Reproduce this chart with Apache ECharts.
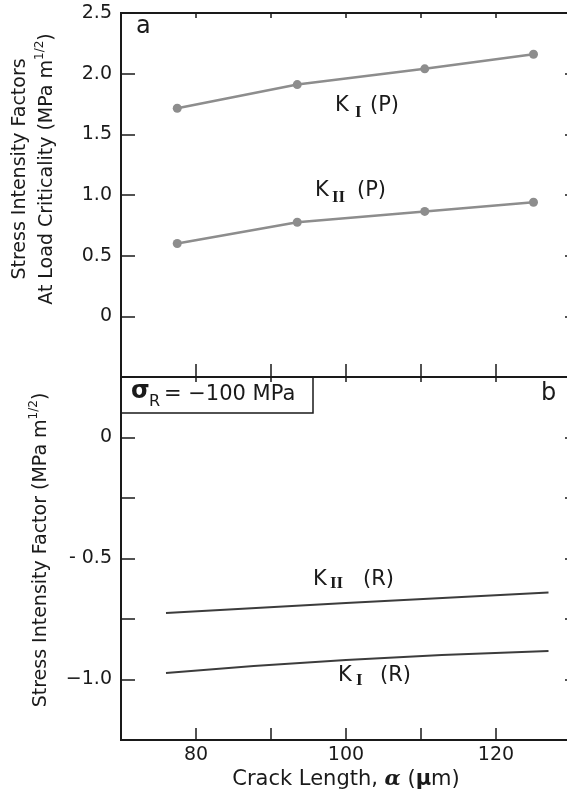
<!DOCTYPE html>
<html>
<head>
<meta charset="UTF-8">
<title>Stress intensity factors vs crack length</title>
<script src="https://cdn.jsdelivr.net/npm/echarts@6/dist/echarts.min.js"></script>
<style>
    html, body { margin: 0; padding: 0; background: #fff; }
    #chart { width: 567px; height: 792px; }
</style>
</head>
<body>
<div id="chart"></div>
<script>
    // crack length (um) of the computed points, panel a
    const crackLenP = [77.5, 93.5, 110.5, 125];
    const kIP = [1.715, 1.91, 2.04, 2.16];
    const kIIP = [0.60, 0.775, 0.865, 0.94];

    // residual stress curves, panel b
    const crackLenR = [76, 100, 127];
    const kIIR = [-0.725, -0.684, -0.641];
    const kIR = [-0.973, -0.919, -0.882];

    // tick labels that are printed
    const yTopTicks = [0, 0.5, 1, 1.5, 2, 2.5];
    const yTopLabels = ['0', '0.5', '1.0', '1.5', '2.0', '2.5'];
    const yBotTicks = [0, -0.5, -1];
    const yBotLabels = ['0', '- 0.5', '\u22121.0'];
    const xTicks = [80, 100, 120];
    const xLabels = ['80', '100', '120'];

    const ink = '#1a1a1a';
    const font = 'DejaVu Sans, sans-serif';

    function pick(ticks, labels) {
        return function (v) {
            for (let i = 0; i < ticks.length; i++) {
                if (Math.abs(ticks[i] - v) < 1e-6) return labels[i];
            }
            return '';
        };
    }

    function pairs(xs, ys) {
        return xs.map(function (x, i) { return [x, ys[i]]; });
    }

    // K label: "K" + bold roman subscript + tail
    function kLabel(x, y, sub, subDx, subDy, tail, tailDx) {
        return {
            type: 'group', x: x, y: y,
            children: [
                {type: 'text', style: {text: 'K', x: 0, y: 0, fill: ink, font: '21px ' + font, verticalAlign: 'top'}},
                {type: 'text', style: {text: sub, x: subDx, y: subDy, fill: ink, font: 'bold 17px Liberation Serif, serif', verticalAlign: 'top'}},
                {type: 'text', style: {text: tail, x: tailDx, y: 0, fill: ink, font: '21px ' + font, verticalAlign: 'top'}}
            ]
        };
    }

    let myChart = echarts.init(document.getElementById('chart'));

    let sideX = function (grid, pos, tickLen) {
        return {
            type: 'value', gridIndex: grid, position: pos,
            min: 70, max: 130, interval: 10,
            axisLine: {show: true, onZero: false, lineStyle: {color: ink, width: 2}},
            axisTick: {show: true, inside: true, length: tickLen, lineStyle: {color: ink, width: 1.5}},
            axisLabel: {show: false},
            splitLine: {show: false}
        };
    };
    let sideY = function (grid, pos, min, max, step, tickLen) {
        return {
            type: 'value', gridIndex: grid, position: pos,
            min: min, max: max, interval: step,
            axisLine: {show: true, onZero: false, lineStyle: {color: ink, width: 2}},
            axisTick: {show: true, inside: true, length: tickLen, lineStyle: {color: ink, width: 1.5}},
            axisLabel: {show: false},
            splitLine: {show: false}
        };
    };

    let xBottom = sideX(1, 'bottom', 12);
    xBottom.axisLabel = {
        show: true, color: ink, fontSize: 19, fontFamily: font, margin: 6,
        formatter: pick(xTicks, xLabels)
    };
    xBottom.name = 'Crack Length, {a|\u03b1} ({m|\u00b5}m)';
    xBottom.nameLocation = 'middle';
    xBottom.nameGap = 29;
    xBottom.nameTextStyle = {
        color: ink, fontSize: 21, fontFamily: font,
        rich: {
            a: {fontSize: 21, fontWeight: 'bold', fontStyle: 'italic', fontFamily: 'DejaVu Serif, serif', color: ink},
            m: {fontSize: 21, fontWeight: 'bold', fontFamily: font, color: ink}
        }
    };

    let yTop = sideY(0, 'left', -0.5, 2.5, 0.5, 14);
    yTop.axisLabel = {
        show: true, color: ink, fontSize: 19, fontFamily: font, margin: 9,
        formatter: pick(yTopTicks, yTopLabels)
    };
    yTop.name = 'Stress Intensity Factors\nAt Load Criticality (MPa m{sup|1/2})';
    yTop.nameLocation = 'middle';
    yTop.nameRotate = 90;
    yTop.nameGap = 60;
    yTop.nameTextStyle = {
        color: ink, fontSize: 19, fontFamily: font, lineHeight: 27,
        padding: [0, 0, 0, 52],
        rich: {sup: {fontSize: 12, fontFamily: font, color: ink, verticalAlign: 'top', lineHeight: 27}}
    };

    let yBot = sideY(1, 'left', -1.25, 0.25, 0.25, 14);
    yBot.axisLabel = {
        show: true, color: ink, fontSize: 19, fontFamily: font, margin: 9,
        formatter: pick(yBotTicks, yBotLabels)
    };
    yBot.name = 'Stress Intensity Factor (MPa m{sup|1/2})';
    yBot.nameLocation = 'middle';
    yBot.nameRotate = 90;
    yBot.nameGap = 63;
    yBot.nameTextStyle = {
        color: ink, fontSize: 19, fontFamily: font, lineHeight: 27,
        padding: [0, 0, 0, 17],
        rich: {sup: {fontSize: 12, fontFamily: font, color: ink, verticalAlign: 'top', lineHeight: 27}}
    };

    let option = {
        animation: false,
        backgroundColor: '#fff',
        grid: [
            {left: 121, width: 450, top: 13, height: 364, outerBoundsMode: 'none',
                show: true, borderColor: ink, borderWidth: 2},
            {left: 121, width: 450, top: 377, height: 363, outerBoundsMode: 'none',
                show: true, borderColor: ink, borderWidth: 2}
        ],
        xAxis: [sideX(0, 'bottom', 13), sideX(0, 'top', 5), xBottom, sideX(1, 'top', 5)],
        yAxis: [yTop, sideY(0, 'right', -0.5, 2.5, 0.5, 6), yBot, sideY(1, 'right', -1.25, 0.25, 0.25, 6)],
        series: [
            {
                name: 'KI(P)', type: 'line', xAxisIndex: 0, yAxisIndex: 0,
                data: pairs(crackLenP, kIP),
                symbol: 'circle', symbolSize: 9,
                lineStyle: {color: '#8d8d8d', width: 2.5},
                itemStyle: {color: '#8d8d8d'}
            },
            {
                name: 'KII(P)', type: 'line', xAxisIndex: 0, yAxisIndex: 0,
                data: pairs(crackLenP, kIIP),
                symbol: 'circle', symbolSize: 9,
                lineStyle: {color: '#8d8d8d', width: 2.5},
                itemStyle: {color: '#8d8d8d'}
            },
            {
                name: 'KII(R)', type: 'line', xAxisIndex: 2, yAxisIndex: 2,
                data: pairs(crackLenR, kIIR), smooth: true,
                showSymbol: false,
                lineStyle: {color: '#3c3c3c', width: 2}
            },
            {
                name: 'KI(R)', type: 'line', xAxisIndex: 2, yAxisIndex: 2,
                data: pairs(crackLenR, kIR), smooth: true,
                showSymbol: false,
                lineStyle: {color: '#3c3c3c', width: 2}
            }
        ],
        graphic: [
            {type: 'text', style: {text: 'a', x: 136, y: 15, fill: ink, font: '24px ' + font, verticalAlign: 'top'}},
            {type: 'text', style: {text: 'b', x: 541, y: 382, fill: ink, font: '24px ' + font, verticalAlign: 'top'}},
            {
                type: 'rect', shape: {x: 121, y: 377, width: 192, height: 36},
                style: {fill: '#fff', stroke: ink, lineWidth: 1.5}
            },
            {type: 'text', style: {text: '\u03c3', x: 131, y: 380, fill: ink, font: 'bold 24px ' + font, verticalAlign: 'top'}},
            {type: 'text', style: {text: 'R', x: 149, y: 394, fill: ink, font: '16px ' + font, verticalAlign: 'top'}},
            {type: 'text', style: {text: '= \u2212100 MPa', x: 164, y: 384, fill: ink, font: '21px ' + font, verticalAlign: 'top'}},
            kLabel(335, 95, 'I', 20, 9, '(P)', 35),
            kLabel(315, 180, 'II', 17, 9, '(P)', 42),
            kLabel(313, 569, 'II', 17, 6, '(R)', 50),
            kLabel(338, 665, 'I', 18, 7, '(R)', 42)
        ]
    };

    myChart.setOption(option);
</script>
</body>
</html>
